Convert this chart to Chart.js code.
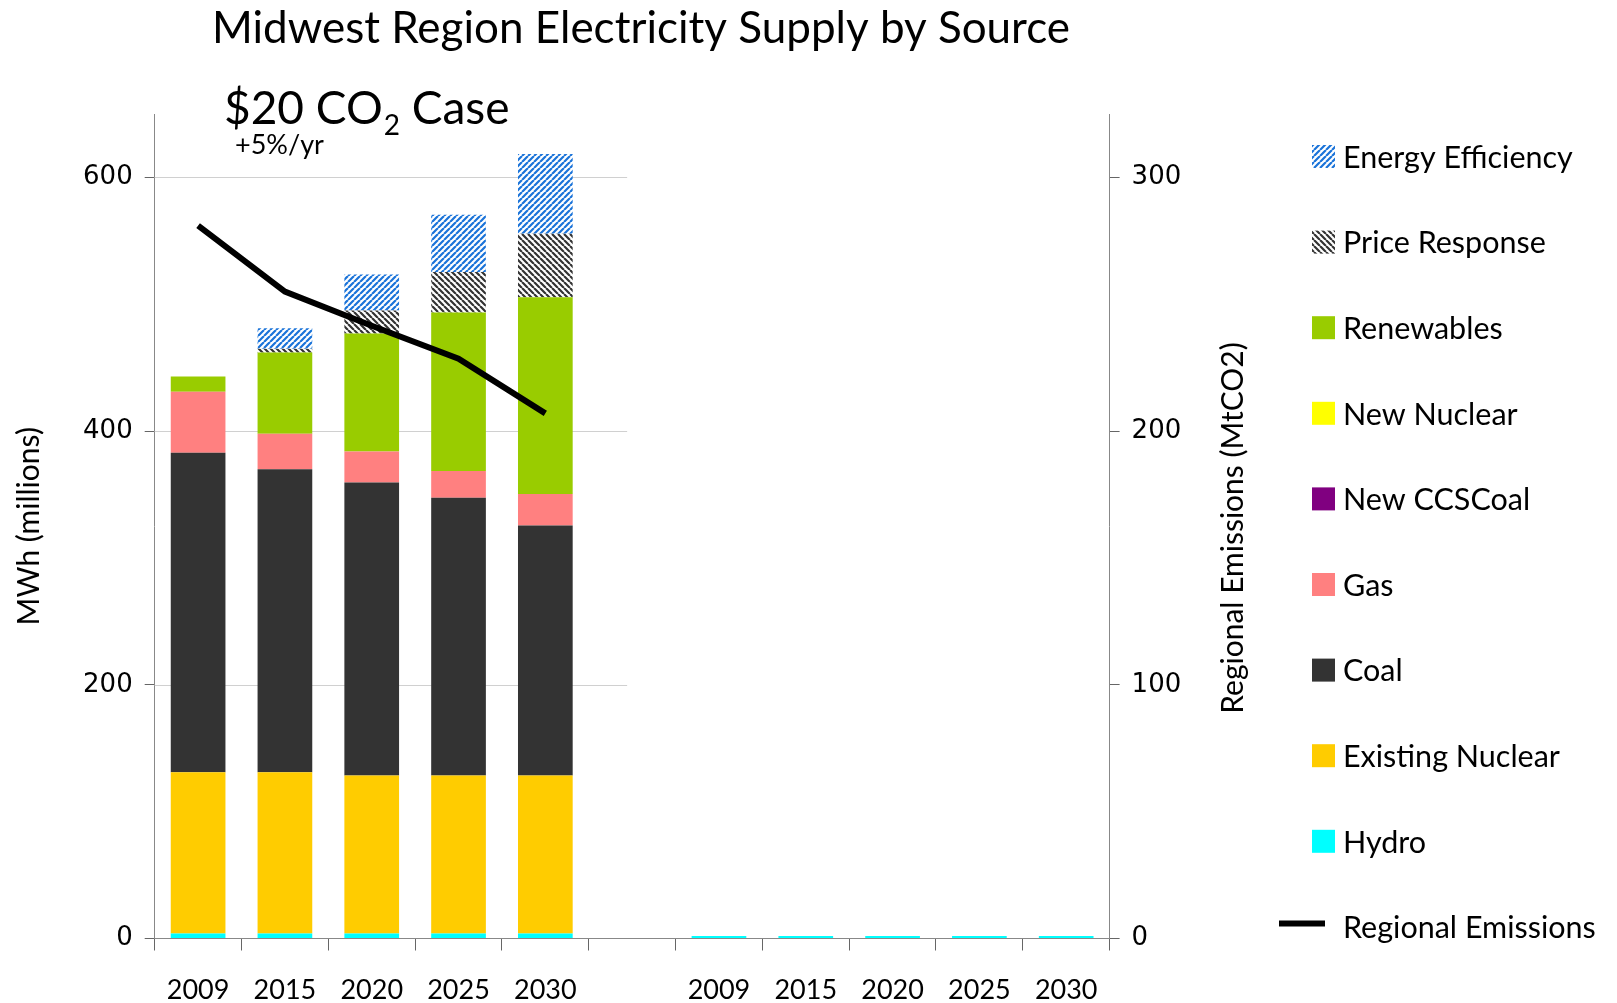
<!DOCTYPE html>
<html>
<head>
<meta charset="utf-8">
<script src="https://cdn.jsdelivr.net/npm/chart.js@4/dist/chart.umd.min.js"></script>
<style>
  html, body { margin: 0; padding: 0; background: #ffffff; }
  #wrap { width: 1617px; height: 1003px; position: relative; }
</style>
</head>
<body>
<div id="wrap"><canvas id="c" width="1617" height="1003"></canvas></div>
<script>
// ---------------- DATA ----------------
const categories = ['2009', '2015', '2020', '2025', '2030', '', '2009', '2015', '2020', '2025', '2030'];
const hydro            = [4, 4, 4, 4, 4, 0, 2, 2, 2, 2, 2];
const existingNuclear  = [127, 127, 124.5, 124.5, 124.5, 0, 0, 0, 0, 0, 0];
const coal             = [252, 239, 231, 219, 197, 0, 0, 0, 0, 0, 0];
const gas              = [48, 28, 24.5, 21, 25, 0, 0, 0, 0, 0, 0];
const newCCSCoal       = [0, 0, 0, 0, 0, 0, 0, 0, 0, 0, 0];
const newNuclear       = [0, 0, 0, 0, 0, 0, 0, 0, 0, 0, 0];
const renewables       = [12, 64, 93, 125, 155, 0, 0, 0, 0, 0, 0];
const priceResponse    = [0, 3, 18, 32, 50, 0, 0, 0, 0, 0, 0];
const energyEfficiency = [0, 16, 28.5, 45, 63, 0, 0, 0, 0, 0, 0];
const emissions        = [281, 255, 241.5, 228.5, 207, null, null, null, null, null, null];
const leftTicks  = [0, 200, 400, 600];
const rightTicks = [0, 100, 200, 300];

// ---------------- STYLE HELPERS ----------------
function makeHatch(color, dir) {
  const s = 6;
  const cv = document.createElement('canvas');
  cv.width = s; cv.height = s;
  const g = cv.getContext('2d');
  g.fillStyle = '#ffffff';
  g.fillRect(0, 0, s, s);
  g.strokeStyle = color;
  g.lineWidth = 2.2;
  g.beginPath();
  if (dir === '/') {
    for (let k = -1; k <= 1; k++) {
      g.moveTo(k * s, s); g.lineTo(k * s + s, 0);
    }
  } else {
    for (let k = -1; k <= 1; k++) {
      g.moveTo(k * s, 0); g.lineTo(k * s + s, s);
    }
  }
  g.stroke();
  return g.createPattern(cv, 'repeat');
}
const ctx = document.getElementById('c').getContext('2d');
const eePattern = makeHatch('#1a73d9', '/');
const prPattern = makeHatch('#333333', '\\');

const FONT = 'Lato, "Open Sans", sans-serif';
const TICKFONT = '"DejaVu Sans", Verdana, sans-serif';

function bar(label, data, color) {
  return { type: 'bar', label, data, backgroundColor: color, borderWidth: 0,
           yAxisID: 'y', stack: 's', order: 1,
           barPercentage: 0.63, categoryPercentage: 1.0 };
}

const datasets = [
  { type: 'line', label: 'Regional Emissions', data: emissions, yAxisID: 'y2',
    borderColor: '#000000', borderWidth: 6, pointRadius: 0, tension: 0,
    fill: false, spanGaps: false, order: 0 },
  bar('Hydro', hydro, '#00ffff'),
  bar('Existing Nuclear', existingNuclear, '#ffcc00'),
  bar('Coal', coal, '#333333'),
  bar('Gas', gas, '#ff8080'),
  bar('New CCSCoal', newCCSCoal, '#800080'),
  bar('New Nuclear', newNuclear, '#ffff00'),
  bar('Renewables', renewables, '#99cc00'),
  bar('Price Response', priceResponse, prPattern),
  bar('Energy Efficiency', energyEfficiency, eePattern)
];

const legendOrder = ['Energy Efficiency', 'Price Response', 'Renewables', 'New Nuclear',
  'New CCSCoal', 'Gas', 'Coal', 'Existing Nuclear', 'Hydro', 'Regional Emissions'];

const extras = {
  id: 'extras',
  beforeDatasetsDraw(chart) {
    const c = chart.ctx, y = chart.scales.y, x = chart.scales.x;
    const xEnd = x.getPixelForValue(5) - 5;
    c.save();
    c.strokeStyle = '#d0d0d0';
    c.lineWidth = 1;
    leftTicks.forEach(v => {
      if (v === 0) return;
      const py = Math.round(y.getPixelForValue(v)) + 0.5;
      c.beginPath(); c.moveTo(chart.chartArea.left, py); c.lineTo(xEnd, py); c.stroke();
    });
    c.restore();
  },
  afterDraw(chart) {
    const c = chart.ctx;
    c.save();
    // Main title
    c.fillStyle = '#000';
    c.textAlign = 'center';
    c.textBaseline = 'middle';
    c.font = '44px ' + FONT;
    c.fillText('Midwest Region Electricity Supply by Source', 641, 29);

    // Right axis title (reads bottom-to-top)
    c.save();
    c.translate(1233, 528);
    c.rotate(-Math.PI / 2);
    c.font = '30px ' + FONT;
    c.fillText('Regional Emissions (MtCO2)', 0, 0);
    c.restore();

    // Case label
    c.textBaseline = 'alphabetic';
    c.textAlign = 'left';
    c.font = '46px ' + FONT;
    let xx = 224, by = 124;
    const p1 = '$20 CO';
    c.fillText(p1, xx, by);
    xx += c.measureText(p1).width;
    c.font = '28px ' + FONT;
    c.fillText('2', xx + 1, by + 11);
    xx += c.measureText('2').width + 1;
    c.font = '46px ' + FONT;
    c.fillText(' Case', xx, by);
    c.font = '27px ' + FONT;
    c.fillText('+5%/yr', 235, 154);

    // Legend
    const ds = chart.data.datasets;
    const top = 158, step = 85.6;
    c.font = '30.5px ' + FONT;
    c.textBaseline = 'middle';
    legendOrder.forEach((name, i) => {
      const d = ds.find(e => e.label === name);
      const cy = top + i * step;
      if (d.type === 'line') {
        c.strokeStyle = d.borderColor;
        c.lineWidth = 6;
        c.beginPath(); c.moveTo(1279, cy - 5); c.lineTo(1325, cy - 5); c.stroke();
      } else {
        c.fillStyle = d.backgroundColor;
        c.fillRect(1312, cy - 13, 23, 23);
      }
      c.fillStyle = '#000';
      c.fillText(name, 1343, cy);
    });
    c.restore();
  }
};

new Chart(ctx, {
  data: { labels: categories, datasets },
  options: {
    responsive: false,
    animation: false,
    layout: { padding: { left: 0, right: 366, top: 114, bottom: 0 } },
    plugins: {
      legend: { display: false },
      tooltip: { enabled: false },
      title: { display: false }
    },
    scales: {
      x: {
        stacked: true,
        offset: true,
        grid: { display: true, drawOnChartArea: false, offset: true, tickLength: 12, color: '#666' },
        border: { color: '#888', width: 1 },
        ticks: { color: '#000', font: { family: FONT, size: 27 }, padding: 24, maxRotation: 0, autoSkip: false },
        afterFit(s) { s.height = 64.5; }
      },
      y: {
        type: 'linear', position: 'left', stacked: true, min: 0, max: 650,
        ticks: { stepSize: 100, color: '#000', font: { family: TICKFONT, size: 26 }, padding: 12 },
        afterBuildTicks(s) { s.ticks = leftTicks.map(v => ({ value: v })); },
        grid: { drawOnChartArea: false, tickLength: 10, color: '#666' },
        border: { color: '#888', width: 1 },
        title: { display: true, text: 'MWh (millions)', color: '#000',
                 font: { family: FONT, size: 30 }, padding: { top: 11, bottom: 0 } },
        afterFit(s) { s.width = 154.7; }
      },
      y2: {
        type: 'linear', position: 'right', stacked: false, min: 0, max: 325,
        ticks: { stepSize: 50, color: '#000', font: { family: TICKFONT, size: 26 }, padding: 12 },
        afterBuildTicks(s) { s.ticks = rightTicks.map(v => ({ value: v })); },
        grid: { drawOnChartArea: false, tickLength: 10, color: '#666' },
        border: { color: '#888', width: 1 },
        title: { display: false },
        afterFit(s) { s.width = 141.4; }
      }
    }
  },
  plugins: [extras]
});
</script>
</body>
</html>
